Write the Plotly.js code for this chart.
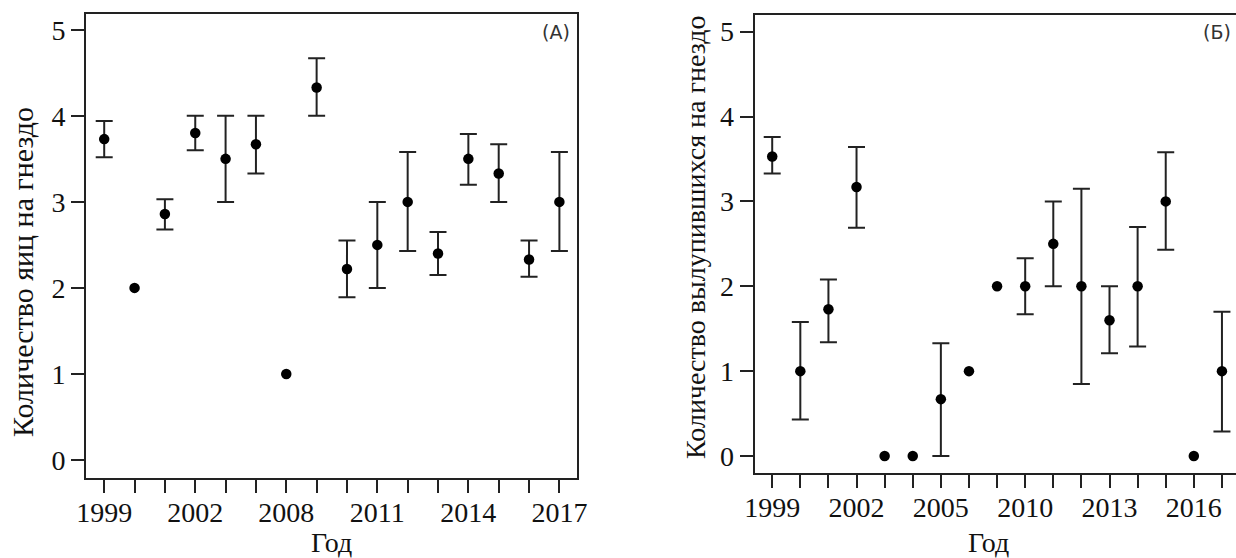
<!DOCTYPE html>
<html>
<head>
<meta charset="utf-8">
<script src="https://cdn.plot.ly/plotly-3.0.1.min.js"></script>
<style>
  html, body { margin: 0; padding: 0; background: #ffffff; }
  #chart { width: 1236px; height: 558px; }
</style>
</head>
<body>
<div id="chart"></div>
<script>
// Panel A: eggs per nest
const yearsA = ['1999','2000','2001','2002','2003','2004','2008','2009','2010','2011','2012','2013','2014','2015','2016','2017'];
const eggsMean = [3.73, 2.0, 2.86, 3.80, 3.5, 3.67, 1.0, 4.33, 2.22, 2.5, 3.0, 2.4, 3.5, 3.33, 2.33, 3.0];
const eggsUpper = [3.94, 2.0, 3.03, 4.0, 4.0, 4.0, 1.0, 4.67, 2.55, 3.0, 3.58, 2.65, 3.79, 3.67, 2.55, 3.58];
const eggsLower = [3.52, 2.0, 2.68, 3.6, 3.0, 3.33, 1.0, 4.0, 1.89, 2.0, 2.43, 2.15, 3.2, 3.0, 2.13, 2.43];
const labeledA = ['1999','2002','2008','2011','2014','2017'];

// Panel B: hatchlings per nest
const yearsB = ['1999','2000','2001','2002','2003','2004','2005','2008','2009','2010','2011','2012','2013','2014','2015','2016','2017'];
const hatchMean = [3.53, 1.0, 1.73, 3.17, 0, 0, 0.67, 1.0, 2.0, 2.0, 2.5, 2.0, 1.6, 2.0, 3.0, 0, 1.0];
const hatchUpper = [3.76, 1.58, 2.08, 3.64, 0, 0, 1.33, 1.0, 2.0, 2.33, 3.0, 3.15, 2.0, 2.7, 3.58, 0, 1.70];
const hatchLower = [3.33, 0.43, 1.34, 2.69, 0, 0, 0.0, 1.0, 2.0, 1.67, 2.0, 0.85, 1.21, 1.29, 2.43, 0, 0.29];
const labeledB = ['1999','2002','2005','2010','2013','2016'];

const tickTextA = yearsA.map(y => labeledA.includes(y) ? y : '');
const tickTextB = yearsB.map(y => labeledB.includes(y) ? y : '');

// points with no spread get no error bar at all (no caps)
function errs(mean, up, lo) {
  const flat = mean.map((m, i) => up[i] === m && lo[i] === m);
  return {
    type: 'data', symmetric: false,
    array: mean.map((m, i) => flat[i] ? NaN : +(up[i] - m).toFixed(3)),
    arrayminus: mean.map((m, i) => flat[i] ? NaN : +(m - lo[i]).toFixed(3)),
    color: '#222', thickness: 2, width: 8.5
  };
}

const traceA = {
  x: yearsA, y: eggsMean, type: 'scatter', mode: 'markers',
  marker: { color: '#000', size: 10.5 },
  error_y: errs(eggsMean, eggsUpper, eggsLower),
  xaxis: 'x', yaxis: 'y', showlegend: false, hoverinfo: 'x+y'
};
const traceB = {
  x: yearsB, y: hatchMean, type: 'scatter', mode: 'markers',
  marker: { color: '#000', size: 10.5 },
  error_y: errs(hatchMean, hatchUpper, hatchLower),
  xaxis: 'x2', yaxis: 'y2', showlegend: false, hoverinfo: 'x+y'
};

const serif = 'Liberation Serif';
const tickFont = { family: serif, size: 28, color: '#111' };
const titleFont = { family: serif, size: 28, color: '#111' };
const axisCommon = {
  showgrid: false, zeroline: false, showline: true,
  linecolor: '#222', linewidth: 2,
  ticks: 'outside', ticklen: 13, tickwidth: 2, tickcolor: '#222',
  tickfont: tickFont
};

const W = 1236, H = 558;
const layout = {
  width: W, height: H,
  margin: { l: 0, r: 0, t: 0, b: 0 },
  paper_bgcolor: '#fff', plot_bgcolor: '#fff',
  font: { family: serif },
  xaxis: Object.assign({}, axisCommon, {
    domain: [86 / W, 577 / W],
    type: 'category', categoryorder: 'array', categoryarray: yearsA,
    range: [-0.6, 15.58],
    tickmode: 'array', tickvals: yearsA, ticktext: tickTextA,
    ticklabelstandoff: -5,
    mirror: true, anchor: 'y'
  }),
  yaxis: Object.assign({}, axisCommon, {
    domain: [(H - 478) / H, (H - 13.5) / H],
    range: [-0.21, 5.19],
    tickvals: [0, 1, 2, 3, 4, 5],
    mirror: true, anchor: 'x'
  }),
  xaxis2: Object.assign({}, axisCommon, {
    domain: [754.5 / W, 1],
    type: 'category', categoryorder: 'array', categoryarray: yearsB,
    range: [-0.63, 16.5],
    tickmode: 'array', tickvals: yearsB, ticktext: tickTextB,
    ticklabelstandoff: -5,
    mirror: true, anchor: 'y2'
  }),
  yaxis2: Object.assign({}, axisCommon, {
    domain: [(H - 473) / H, (H - 14.7) / H],
    range: [-0.2, 5.2],
    tickvals: [0, 1, 2, 3, 4, 5],
    mirror: false, anchor: 'x2'
  }),
  annotations: [
    { text: 'Год', xref: 'paper', yref: 'paper', x: 331 / W, y: (H - 542) / H,
      xanchor: 'center', yanchor: 'middle', showarrow: false, font: titleFont },
    { text: 'Год', xref: 'paper', yref: 'paper', x: 988 / W, y: (H - 542) / H,
      xanchor: 'center', yanchor: 'middle', showarrow: false, font: titleFont },
    { text: 'Количество яиц на гнездо', textangle: -90, xref: 'paper', yref: 'paper',
      x: 22 / W, y: (H - 272) / H, xanchor: 'center', yanchor: 'middle', showarrow: false,
      font: { family: serif, size: 30, color: '#111' } },
    { text: 'Количество вылупившихся на гнездо', textangle: -90, xref: 'paper', yref: 'paper',
      x: 695 / W, y: (H - 238) / H, xanchor: 'center', yanchor: 'middle', showarrow: false,
      font: titleFont },
    { text: '(A)', xref: 'paper', yref: 'paper', x: 556 / W, y: (H - 32) / H,
      xanchor: 'center', yanchor: 'middle', showarrow: false,
      font: { family: 'DejaVu Sans', size: 19, color: '#333' } },
    { text: '(Б)', xref: 'paper', yref: 'paper', x: 1217 / W, y: (H - 32) / H,
      xanchor: 'center', yanchor: 'middle', showarrow: false,
      font: { family: 'DejaVu Sans', size: 19, color: '#333' } }
  ]
};

Plotly.newPlot('chart', [traceA, traceB], layout, { displayModeBar: false, staticPlot: true });
</script>
</body>
</html>
